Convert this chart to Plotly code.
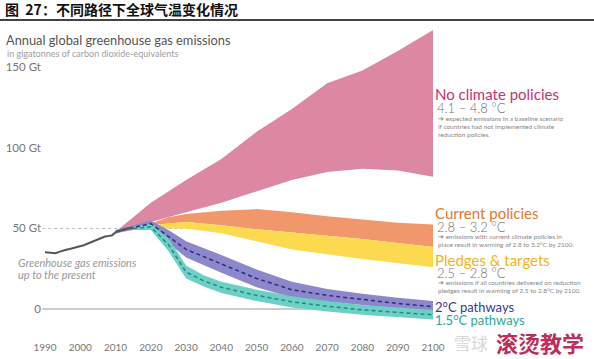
import plotly.graph_objects as go

# ---------------- data ----------------
hist_years = list(range(1990, 2016))
hist_values = [35.3, 35.0, 34.6, 34.7, 35.5, 36.3, 36.8, 37.3, 37.8, 38.3, 38.8, 39.6, 40.5,
               41.5, 42.5, 43.5, 44.4, 45.0, 45.3, 45.7, 47.5, 48.5, 49.2, 49.8, 50.3, 50.6]

ncp_years = [2010, 2015, 2020, 2030, 2040, 2050, 2060, 2070, 2080, 2090, 2100]
ncp_upper = [48, 57, 66, 80, 93, 110, 124, 140, 148, 160, 173]
ncp_lower = [48, 51, 54, 60, 66, 73, 80, 85, 87, 86, 82]

cur_years = [2015, 2020, 2025, 2030, 2040, 2050, 2060, 2070, 2080, 2090, 2100]
cur_upper = [50, 53, 57, 59, 61, 62, 60, 57.5, 55.5, 53.5, 52.5]
cur_lower = [50, 52, 53, 54, 52, 49.5, 47.5, 45.5, 43.5, 41, 38.5]

pl_years = [2015, 2020, 2025, 2030, 2040, 2050, 2060, 2070, 2080, 2090, 2100]
pl_upper = [50, 52, 53, 54, 52, 49.5, 47.5, 45.5, 43.5, 41, 38.5]
pl_lower = [50, 50, 50, 50, 47, 42, 37, 34, 31, 28.5, 26]

p2_years = [2010, 2015, 2020, 2025, 2030, 2040, 2050, 2060, 2070, 2080, 2090, 2100]
p2_upper = [49, 52, 55, 49, 42, 33.5, 24.5, 17, 12.5, 9.5, 7, 5]
p2_lower = [47, 49, 51, 41, 32, 22.5, 13.5, 7, 4.5, 2.5, 0, -2]
p2_center = [48, 50.5, 53, 45, 37, 28, 19, 12, 8.5, 6, 3.5, 1.5]

p15_years = [2015, 2020, 2025, 2030, 2035, 2040, 2050, 2060, 2070, 2080, 2090, 2100]
p15_upper = [51, 53, 44, 27, 21, 17, 12, 8, 5, 2.5, 1, -0.5]
p15_lower = [49, 49, 36, 19, 14, 10, 5, 1, -1.5, -3.5, -5, -6.5]
p15_center = [50, 51, 40, 23, 17.5, 13.5, 8.5, 4.5, 1.8, -0.5, -2, -3.5]

year_ticks = list(range(1990, 2101, 10))
y_ticks = [0, 50, 100, 150]
y_ticktext = ["0", "50 Gt", "100 Gt", "150 Gt"]

# ---------------- layout constants ----------------
W, H = 594, 359
L, R, T, B = 42, 161, 22, 37
PW, PH = W - L - R, H - T - B
FONT = "Lato, 'Open Sans', sans-serif"
CJK = "'Noto Sans CJK SC', sans-serif"


def px(x):
    return (x - L) / PW


def py(y):
    return (H - B - y) / PH


fig = go.Figure()


def band(years, upper, lower, color):
    fig.add_trace(go.Scatter(
        x=years + years[::-1], y=upper + lower[::-1],
        fill="toself", fillcolor=color, mode="lines",
        line=dict(width=0, color=color), hoverinfo="skip", showlegend=False))


band(ncp_years, ncp_upper, ncp_lower, "#DD88A2")
band(cur_years, cur_upper, cur_lower, "#F0976B")
band(pl_years, pl_upper, pl_lower, "#FBDA4F")
band(p2_years, p2_upper, p2_lower, "#8D88CB")
band(p15_years, p15_upper, p15_lower, "#6DD0C4")

fig.add_trace(go.Scatter(x=p2_years, y=p2_center, mode="lines",
                         line=dict(color="#2E2C7E", width=1.5, dash="4px,3px"),
                         showlegend=False, hoverinfo="skip"))
fig.add_trace(go.Scatter(x=p15_years, y=p15_center, mode="lines",
                         line=dict(color="#1E8C80", width=1.5, dash="4px,3px"),
                         showlegend=False, hoverinfo="skip"))
fig.add_trace(go.Scatter(x=hist_years, y=hist_values, mode="lines",
                         line=dict(color="#555555", width=2),
                         showlegend=False, hoverinfo="skip"))

# reference lines
fig.add_shape(type="line", xref="x", yref="y", x0=1989.2, x1=2100, y0=50, y1=50,
              line=dict(color="#BBBBBB", width=1, dash="dot"), layer="below")
fig.add_shape(type="line", xref="x", yref="y", x0=1989.2, x1=2100, y0=0, y1=0,
              line=dict(color="#CCCCCC", width=2), layer="below")
# header underline
fig.add_shape(type="line", xref="paper", yref="paper", x0=px(0), x1=px(594),
              y0=py(20), y1=py(20), line=dict(color="#444444", width=2))

ann = []


def text(x, y, s, size, color, family=FONT, xanchor="left", style="normal", weight="normal"):
    ann.append(dict(x=px(x), y=py(y), xref="paper", yref="paper", text=s, showarrow=False,
                    xanchor=xanchor, yanchor="middle",
                    font=dict(size=size, color=color, family=family, style=style, weight=weight)))


text(3, 9, "图  27：不同路径下全球气温变化情况", 14, "#111111", family=CJK, weight="bold")
text(4, 40.5, "Annual global greenhouse gas emissions", 12.8, "#555555")
text(5, 53, "in gigatonnes of carbon dioxide-equivalents", 9, "#A0A0A0")

text(16, 262, "Greenhouse gas emissions", 11, "#999999", style="italic")
text(16, 274, "up to the present", 11, "#999999", style="italic")

text(433, 94, "No climate policies", 15, "#C7336B")
text(435, 107.5, "4.1 – 4.8 °C", 13, "#707070", weight=300)
text(436, 118.5, "➔ expected emissions in a baseline scenario", 6.5, "#888888")
text(436, 126.5, "if countries had not implemented climate", 6.5, "#888888")
text(436, 134.5, "reduction policies.", 6.5, "#888888")

text(433, 213, "Current policies", 15, "#E5772E")
text(435, 226.5, "2.8 – 3.2 °C", 13, "#707070", weight=300)
text(436, 236, "➔ emissions with current climate policies in", 6.5, "#888888")
text(436, 244, "place result in warming of 2.8 to 3.2°C by 2100.", 6.5, "#888888")

text(433, 260, "Pledges & targets", 15, "#F0B323")
text(435, 273, "2.5 – 2.8 °C", 13, "#707070", weight=300)
text(436, 282, "➔ emissions if all countries delivered on reduction", 6.5, "#888888")
text(436, 290, "pledges result in warming of 2.5 to 2.8°C by 2100.", 6.5, "#888888")

text(433, 307, "2°C pathways", 13, "#3C3A92")
text(433, 320, "1.5°C pathways", 13, "#2BA89B")

text(452, 342, "雪球", 17, "#D8D8D8", family=CJK)
text(494, 342, "滚烫教学", 22, "#BC2F5C", family=CJK, weight="bold")

fig.update_layout(
    width=W, height=H,
    margin=dict(l=L, r=R, t=T, b=B, autoexpand=False),
    paper_bgcolor="white", plot_bgcolor="white",
    showlegend=False,
    annotations=ann,
    xaxis=dict(range=[1989.15, 2100], tickvals=year_ticks, ticks="outside", ticklen=16,
               tickcolor="rgba(0,0,0,0)", showgrid=False, zeroline=False, showline=False,
               automargin=False,
               tickfont=dict(family=FONT, size=10, color="#777777")),
    yaxis=dict(range=[-8, 178], tickvals=y_ticks, ticktext=y_ticktext, showgrid=False,
               zeroline=False, showline=False, ticks="", automargin=False,
               tickfont=dict(family=FONT, size=11.5, color="#777777")),
)

fig.write_html("out.html", config={"displayModeBar": False},
               post_script="document.body.style.margin='0';document.body.style.overflow='hidden';")
